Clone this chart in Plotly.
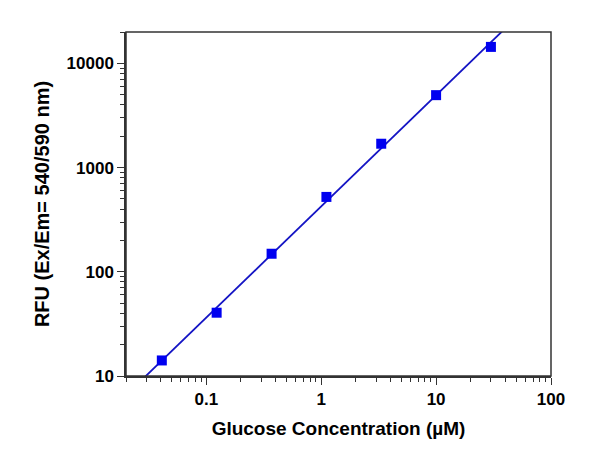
import numpy as np
import plotly.graph_objects as go

# Data
glucose_uM = [0.041, 0.123, 0.37, 1.11, 3.33, 10, 30]
rfu = [14.1, 40.5, 149, 523, 1694, 4955, 14390]

x_tick_vals = [0.1, 1, 10, 100]
x_tick_text = ["0.1", "1", "10", "100"]
y_tick_vals = [10, 100, 1000, 10000]
y_tick_text = ["10", "100", "1000", "10000"]

# Power-law fit (linear in log-log space) drawn across the axis range
lx = np.log10(glucose_uM)
ly = np.log10(rfu)
slope, intercept = np.polyfit(lx, ly, 1)
x_fit = np.logspace(np.log10(0.02), 2, 50)
y_fit = 10 ** (intercept + slope * np.log10(x_fit))

x_minor = [m * 10.0 ** k for k in range(-2, 2) for m in range(2, 10)]
y_minor = [m * 10.0 ** k for k in range(1, 5) for m in range(2, 10)]

font = "Liberation Sans, Arial, sans-serif"
axis_color = "#333333"

fig = go.Figure()
fig.add_trace(go.Scatter(
    x=x_fit, y=y_fit, mode="lines",
    line=dict(color="#1414C4", width=1.8),
    hoverinfo="skip", showlegend=False,
))
fig.add_trace(go.Scatter(
    x=glucose_uM, y=rfu, mode="markers",
    marker=dict(symbol="square", size=10, color="#0000F0"),
    showlegend=False,
))

axis_common = dict(
    type="log",
    showgrid=False, zeroline=False,
    showline=True, linecolor=axis_color, linewidth=1.5, mirror=False,
    ticks="outside", ticklen=7, tickwidth=1.3, tickcolor=axis_color,
    tickfont=dict(family=font, size=17, color="black", weight="bold"),
)

fig.update_xaxes(
    **axis_common,
    range=[np.log10(0.02), 2],
    tickvals=x_tick_vals, ticktext=x_tick_text,
    minor=dict(tickvals=x_minor, ticks="outside", ticklen=4, tickwidth=1, tickcolor=axis_color),
    title=dict(text="<b>Glucose Concentration (µM)</b>", standoff=14,
               font=dict(family=font, size=19, color="black")),
)
fig.update_yaxes(
    **axis_common,
    range=[1, np.log10(20000)],
    tickvals=y_tick_vals, ticktext=y_tick_text,
    minor=dict(tickvals=y_minor, ticks="outside", ticklen=4, tickwidth=1, tickcolor=axis_color),
    title=dict(text="<b>RFU (Ex/Em= 540/590 nm)</b>", standoff=12,
               font=dict(family=font, size=20, color="black")),
)

# frame on top and right (no ticks there)
fig.add_shape(type="rect", xref="paper", yref="paper", x0=0, x1=1, y0=0, y1=1,
              line=dict(color=axis_color, width=1.5), layer="above")

fig.update_layout(
    width=600, height=472,
    margin=dict(l=118, r=57, t=24, b=104),
    plot_bgcolor="white", paper_bgcolor="white",
)

fig.write_html("out.html")
